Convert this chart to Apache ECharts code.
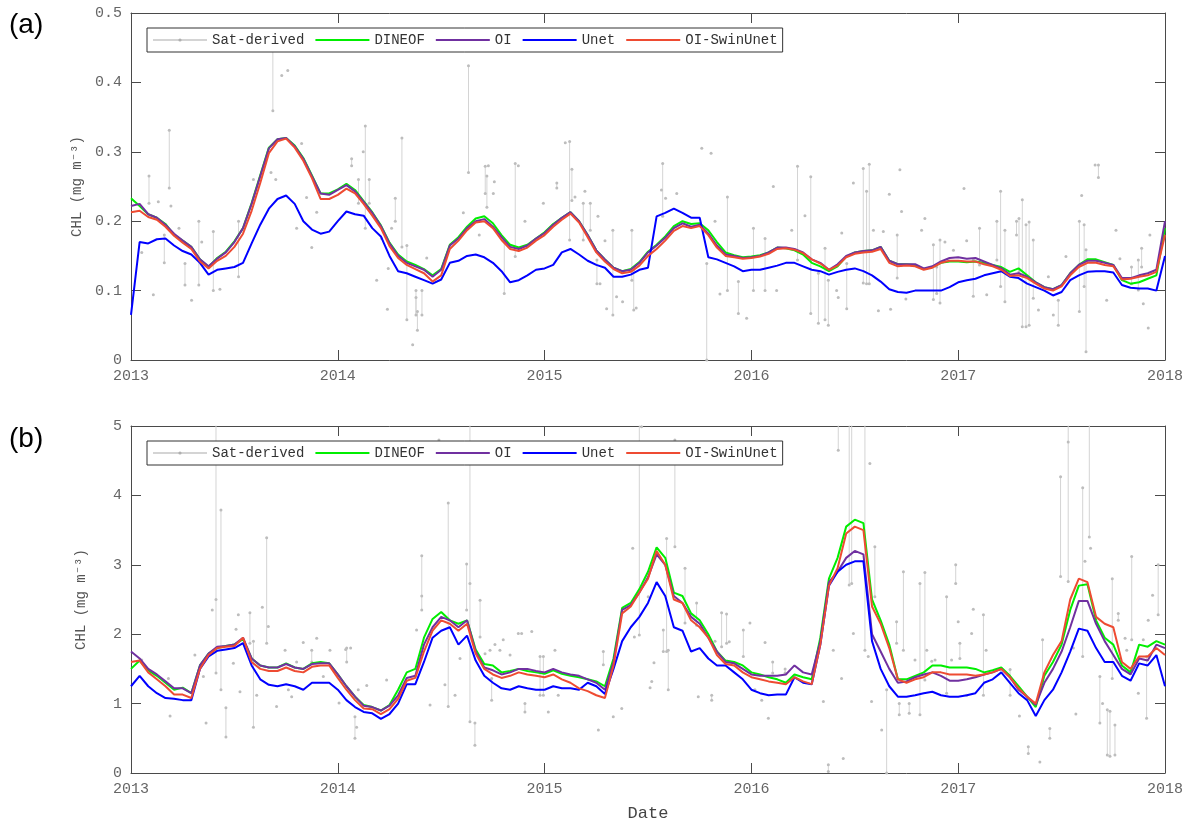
<!DOCTYPE html>
<html>
<head>
<meta charset="utf-8">
<script src="https://cdn.jsdelivr.net/npm/echarts@6/dist/echarts.min.js"></script>
<style>
  html, body { margin: 0; padding: 0; background: #fff; }
  #chart { width: 1191px; height: 824px; }
</style>
</head>
<body>
<div id="chart"></div>
<script>
// time grid: every half month from 2013 to 2018 (decimal years)
const tGrid = Array.from({ length: 121 }, (_, k) => 2013 + k / 24);
const yearTicks = [2013, 2014, 2015, 2016, 2017, 2018];

// ---- panel (a) ----
const dineofA = [
  0.233,0.222,0.21,0.205,0.196,0.18,0.172,0.163,0.145,0.134,
  0.147,0.156,0.171,0.19,0.226,0.266,0.306,0.318,0.32,0.309,
  0.291,0.266,0.24,0.24,0.246,0.254,0.245,0.229,0.213,0.194,
  0.169,0.152,0.142,0.137,0.131,0.122,0.131,0.166,0.177,0.192,
  0.204,0.207,0.197,0.18,0.166,0.162,0.166,0.175,0.184,0.196,
  0.205,0.213,0.2,0.18,0.158,0.145,0.133,0.128,0.131,0.141,
  0.156,0.166,0.178,0.193,0.2,0.196,0.197,0.187,0.17,0.155,
  0.151,0.148,0.149,0.151,0.155,0.162,0.161,0.158,0.152,0.14,
  0.135,0.128,0.135,0.149,0.155,0.157,0.158,0.163,0.143,0.138,
  0.138,0.137,0.131,0.134,0.14,0.142,0.142,0.141,0.142,0.14,
  0.137,0.134,0.127,0.132,0.122,0.112,0.105,0.102,0.108,0.125,
  0.137,0.145,0.145,0.141,0.137,0.115,0.11,0.112,0.117,0.122,
  0.19];
const oiA = [
  0.222,0.225,0.21,0.205,0.195,0.182,0.172,0.163,0.145,0.135,
  0.146,0.155,0.17,0.19,0.225,0.265,0.305,0.318,0.32,0.308,
  0.29,0.265,0.24,0.238,0.245,0.252,0.243,0.228,0.212,0.193,
  0.168,0.15,0.14,0.135,0.13,0.12,0.13,0.165,0.175,0.19,
  0.2,0.203,0.192,0.177,0.163,0.16,0.165,0.175,0.183,0.195,
  0.205,0.213,0.2,0.18,0.158,0.145,0.133,0.128,0.13,0.14,
  0.155,0.165,0.176,0.19,0.197,0.192,0.195,0.182,0.165,0.152,
  0.15,0.147,0.148,0.15,0.155,0.162,0.162,0.16,0.155,0.145,
  0.14,0.13,0.138,0.15,0.155,0.157,0.158,0.163,0.143,0.138,
  0.138,0.138,0.132,0.135,0.142,0.147,0.148,0.146,0.147,0.142,
  0.137,0.132,0.123,0.125,0.12,0.112,0.105,0.102,0.108,0.125,
  0.137,0.143,0.143,0.14,0.137,0.118,0.118,0.122,0.125,0.13,
  0.2];
const unetA = [
  0.065,0.17,0.168,0.174,0.175,0.165,0.157,0.152,0.14,0.123,
  0.13,0.132,0.134,0.14,0.168,0.195,0.218,0.232,0.237,0.225,
  0.2,0.188,0.182,0.185,0.2,0.214,0.21,0.208,0.19,0.178,
  0.15,0.128,0.125,0.12,0.115,0.11,0.116,0.14,0.143,0.15,
  0.152,0.148,0.14,0.128,0.112,0.115,0.122,0.13,0.132,0.137,
  0.155,0.16,0.152,0.143,0.137,0.133,0.12,0.12,0.123,0.13,
  0.133,0.207,0.212,0.218,0.212,0.205,0.205,0.148,0.145,0.14,
  0.135,0.128,0.13,0.13,0.133,0.136,0.14,0.14,0.135,0.13,
  0.128,0.123,0.127,0.13,0.132,0.128,0.122,0.113,0.102,0.098,
  0.097,0.1,0.1,0.1,0.1,0.105,0.112,0.115,0.117,0.122,
  0.125,0.128,0.12,0.118,0.11,0.105,0.1,0.093,0.098,0.115,
  0.122,0.127,0.128,0.128,0.126,0.108,0.104,0.103,0.103,0.1,
  0.15];
const swinA = [
  0.213,0.215,0.206,0.202,0.192,0.179,0.169,0.16,0.142,0.132,
  0.143,0.15,0.163,0.182,0.215,0.255,0.298,0.315,0.319,0.306,
  0.287,0.262,0.232,0.232,0.238,0.247,0.24,0.225,0.208,0.19,
  0.164,0.147,0.137,0.131,0.125,0.113,0.122,0.16,0.172,0.187,
  0.198,0.2,0.19,0.173,0.16,0.157,0.162,0.172,0.18,0.192,
  0.202,0.211,0.198,0.177,0.155,0.142,0.131,0.125,0.127,0.136,
  0.15,0.16,0.172,0.186,0.193,0.19,0.193,0.18,0.162,0.15,
  0.148,0.146,0.147,0.149,0.153,0.16,0.161,0.159,0.154,0.145,
  0.139,0.13,0.136,0.148,0.153,0.155,0.156,0.16,0.14,0.135,
  0.136,0.135,0.13,0.133,0.14,0.143,0.143,0.142,0.142,0.138,
  0.135,0.13,0.121,0.122,0.118,0.11,0.103,0.1,0.106,0.122,
  0.134,0.14,0.14,0.137,0.135,0.116,0.117,0.12,0.122,0.127,
  0.18];
// satellite observations: [years after 2013, value(s)] ; several values = vertical run
const satA = [
  [0.052,0.155],[0.087,0.265,0.226],[0.108,0.094],[0.132,0.228],[0.161,0.18,0.14],
  [0.185,0.331,0.248],[0.193,0.222],[0.232,0.19],[0.261,0.139,0.108],[0.293,0.086],
  [0.328,0.2,0.108],[0.342,0.17],[0.398,0.185,0.1],[0.43,0.102],[0.52,0.2,0.12],
  [0.592,0.26],[0.677,0.27],[0.686,0.46,0.359],[0.7,0.26],[0.729,0.41],[0.758,0.417],
  [0.801,0.19],[0.825,0.312],[0.849,0.234],[0.874,0.162],[0.898,0.213],
  [1.067,0.29,0.28],[1.1,0.26,0.226],[1.123,0.3],[1.133,0.337,0.19],[1.152,0.26,0.226],
  [1.188,0.115],[1.212,0.175],[1.24,0.073],[1.244,0.132],[1.26,0.19],[1.278,0.233,0.2],
  [1.31,0.32,0.163],[1.334,0.165,0.058],[1.362,0.022],[1.378,0.1,0.065,0.09],
  [1.385,0.043,0.07],[1.407,0.065,0.1],[1.43,0.147],[1.607,0.212],[1.632,0.424,0.27],
  [1.684,0.18],[1.713,0.279,0.24],[1.721,0.265,0.22],[1.728,0.28],[1.752,0.24],
  [1.757,0.257],[1.805,0.173,0.096],[1.858,0.283,0.149],[1.873,0.28],[1.905,0.2],
  [1.994,0.226],[2.059,0.255,0.248],[2.1,0.313],[2.121,0.315,0.173],[2.132,0.275,0.23],
  [2.147,0.235],[2.187,0.226,0.173],[2.195,0.243],[2.221,0.226,0.187],[2.253,0.144,0.11],
  [2.258,0.207],[2.268,0.11],[2.292,0.172],[2.3,0.074],[2.33,0.187,0.065],[2.348,0.091],
  [2.377,0.084],[2.422,0.187,0.115],[2.431,0.13,0.072],[2.443,0.075],[2.565,0.245],
  [2.571,0.283,0.207],[2.585,0.233],[2.639,0.24],[2.76,0.305],[2.784,0.139,0.0],
  [2.805,0.298],[2.824,0.2],[2.848,0.095],[2.884,0.235,0.1],[2.937,0.113,0.067],
  [2.977,0.06],[3.01,0.19,0.1],[3.066,0.175,0.1],[3.106,0.25],[3.122,0.1],[3.195,0.187],
  [3.223,0.279,0.144],[3.259,0.208],[3.287,0.264,0.067],[3.324,0.125,0.053],
  [3.356,0.161,0.058],[3.372,0.115,0.05],[3.412,0.1],[3.42,0.09],[3.437,0.183],
  [3.461,0.139,0.074],[3.493,0.255],[3.541,0.276,0.111],[3.557,0.243,0.11],
  [3.57,0.282,0.11],[3.59,0.187],[3.614,0.071],[3.638,0.185],[3.667,0.239],[3.673,0.073],
  [3.705,0.18,0.118],[3.718,0.274],[3.726,0.214],[3.747,0.088],[3.823,0.187],[3.839,0.204],
  [3.88,0.166,0.087],[3.896,0.134,0.096],[3.912,0.173,0.082],[3.936,0.17],[3.977,0.158],
  [4.028,0.247],[4.041,0.172],[4.073,0.144,0.092],[4.103,0.19,0.137],[4.138,0.094],
  [4.187,0.2,0.144],[4.205,0.243,0.106],[4.226,0.187,0.084],[4.282,0.2,0.18],
  [4.294,0.204,0.127],[4.31,0.231,0.048],[4.328,0.195,0.048],[4.343,0.199,0.05],
  [4.363,0.173,0.089],[4.388,0.072],[4.436,0.12],[4.46,0.065],[4.484,0.086,0.05],
  [4.521,0.149],[4.586,0.2,0.07],[4.597,0.237],[4.609,0.195,0.106],[4.618,0.159,0.012],
  [4.662,0.281],[4.678,0.281,0.263],[4.718,0.086],[4.763,0.187],[4.782,0.146],
  [4.838,0.134,0.11],[4.871,0.144,0.101],[4.887,0.161,0.134],[4.895,0.081],[4.919,0.046],
  [4.927,0.18]
];

// ---- panel (b) ----
const dineofB = [
  1.5,1.62,1.48,1.4,1.3,1.2,1.23,1.15,1.55,1.72,
  1.8,1.83,1.85,1.93,1.65,1.55,1.52,1.52,1.58,1.52,
  1.5,1.58,1.6,1.58,1.42,1.25,1.1,0.98,0.95,0.9,
  0.98,1.2,1.45,1.5,1.95,2.22,2.32,2.2,2.15,2.2,
  1.78,1.57,1.55,1.45,1.47,1.5,1.47,1.45,1.43,1.48,
  1.43,1.4,1.38,1.35,1.32,1.25,1.65,2.38,2.45,2.65,
  2.9,3.25,3.1,2.6,2.55,2.3,2.2,2.0,1.75,1.62,
  1.6,1.55,1.45,1.42,1.38,1.35,1.3,1.42,1.38,1.35,
  1.95,2.8,3.1,3.55,3.65,3.6,2.5,2.2,1.85,1.35,
  1.35,1.4,1.45,1.55,1.55,1.52,1.52,1.52,1.5,1.45,
  1.48,1.52,1.4,1.25,1.1,0.95,1.4,1.6,1.85,2.35,
  2.7,2.72,2.2,1.95,1.85,1.55,1.45,1.85,1.82,1.9,
  1.85];
const oiB = [
  1.75,1.65,1.5,1.42,1.32,1.22,1.22,1.15,1.55,1.72,
  1.82,1.83,1.85,1.95,1.65,1.55,1.52,1.52,1.57,1.52,
  1.5,1.57,1.58,1.58,1.42,1.25,1.1,0.97,0.95,0.9,
  0.97,1.12,1.37,1.4,1.85,2.1,2.25,2.2,2.1,2.2,
  1.75,1.52,1.48,1.42,1.45,1.5,1.5,1.47,1.45,1.5,
  1.45,1.42,1.4,1.35,1.3,1.2,1.6,2.35,2.42,2.6,
  2.82,3.15,3.0,2.55,2.45,2.25,2.15,1.95,1.75,1.6,
  1.58,1.5,1.42,1.4,1.4,1.4,1.42,1.55,1.45,1.42,
  1.9,2.75,2.9,3.1,3.2,3.15,2.0,1.75,1.5,1.3,
  1.32,1.38,1.42,1.45,1.4,1.33,1.33,1.35,1.38,1.42,
  1.45,1.5,1.38,1.2,1.1,0.98,1.3,1.5,1.75,2.1,
  2.48,2.48,2.15,1.9,1.7,1.5,1.42,1.65,1.62,1.85,
  1.8];
const unetB = [
  1.25,1.4,1.25,1.15,1.08,1.07,1.05,1.05,1.5,1.68,
  1.76,1.78,1.8,1.87,1.55,1.35,1.27,1.25,1.28,1.25,
  1.2,1.3,1.3,1.3,1.2,1.05,0.95,0.88,0.86,0.78,
  0.85,1.0,1.28,1.28,1.6,1.95,2.05,2.1,1.85,1.98,
  1.62,1.4,1.3,1.22,1.2,1.25,1.22,1.2,1.2,1.25,
  1.22,1.22,1.2,1.3,1.25,1.14,1.5,1.9,2.1,2.25,
  2.45,2.75,2.55,2.1,2.05,1.75,1.8,1.65,1.55,1.55,
  1.45,1.35,1.2,1.15,1.12,1.13,1.13,1.38,1.3,1.28,
  1.85,2.7,2.9,3.0,3.05,3.05,1.9,1.5,1.25,1.1,
  1.1,1.12,1.15,1.17,1.12,1.1,1.1,1.12,1.15,1.3,
  1.35,1.45,1.3,1.15,1.05,0.82,1.05,1.2,1.45,1.75,
  2.08,2.05,1.8,1.6,1.6,1.4,1.33,1.58,1.55,1.7,
  1.25];
const swinB = [
  1.6,1.62,1.45,1.35,1.25,1.13,1.13,1.08,1.5,1.7,
  1.8,1.82,1.83,1.95,1.6,1.5,1.47,1.47,1.52,1.47,
  1.45,1.53,1.55,1.55,1.37,1.2,1.05,0.93,0.92,0.85,
  0.92,1.07,1.33,1.37,1.75,2.05,2.2,2.15,2.05,2.15,
  1.72,1.5,1.42,1.37,1.4,1.45,1.42,1.4,1.38,1.42,
  1.35,1.3,1.22,1.18,1.12,1.08,1.55,2.3,2.4,2.6,
  2.8,3.2,3.0,2.5,2.45,2.2,2.1,1.95,1.7,1.57,
  1.55,1.45,1.38,1.35,1.32,1.3,1.28,1.38,1.32,1.28,
  1.85,2.7,2.95,3.45,3.55,3.5,2.4,2.15,1.8,1.35,
  1.3,1.35,1.38,1.45,1.45,1.42,1.42,1.42,1.4,1.42,
  1.45,1.5,1.38,1.22,1.1,1.0,1.45,1.7,1.9,2.5,
  2.8,2.75,2.25,2.15,2.1,1.6,1.5,1.68,1.68,1.8,
  1.7];
const satB = [
  [0.052,1.63],[0.181,1.36],[0.189,0.82],[0.309,1.7],[0.35,1.39],[0.363,0.72],[0.393,2.35],
  [0.411,5.6,2.5,1.44],[0.435,3.79,1.2],[0.459,0.94,0.52],[0.495,1.58],[0.508,2.07],
  [0.519,2.28],[0.527,1.17],[0.575,2.31,1.87],[0.592,1.9,0.66],[0.608,1.12],[0.635,2.39],
  [0.656,3.39,1.87],[0.664,2.11],[0.704,0.96],[0.745,1.77],[0.761,1.2],[0.777,1.1],
  [0.801,1.6],[0.833,1.88],[0.874,1.77,1.6],[0.898,1.94],[0.93,1.39],[0.962,1.77],
  [1.006,1.01],[1.038,1.78],[1.043,1.8,1.6],[1.062,1.8],[1.083,0.81,0.5],[1.091,0.66],
  [1.099,1.2],[1.14,1.26],[1.236,1.34],[1.381,2.06],[1.406,3.13,2.55,2.35],[1.446,0.98],
  [1.489,4.8],[1.518,1.27],[1.534,3.89,0.96],[1.567,1.12],[1.591,1.65],[1.623,3.01,2.35],
  [1.639,5.6,2.73,0.74],[1.663,0.72,0.4],[1.688,2.49,1.96],[1.712,1.72],[1.736,1.77],
  [1.744,1.36,1.05],[1.76,1.85],[1.784,1.77],[1.8,1.92],[1.833,1.7],[1.873,2.01],
  [1.889,2.01],[1.905,1.0,0.88],[1.938,2.04],[1.978,1.68,1.12],[1.994,1.68,1.12],
  [2.018,0.88],[2.05,1.77],[2.066,1.12],[2.26,0.62],[2.284,1.75,1.56],[2.332,0.81],
  [2.373,0.93],[2.426,3.24],[2.434,1.96],[2.458,5.6,1.99],[2.469,4.99],[2.501,2.54],
  [2.51,1.23],[2.518,1.32],[2.529,1.59],[2.574,2.06,1.75],[2.59,3.38,1.75],
  [2.598,1.77,1.2],[2.63,4.8,3.26],[2.679,2.95,2.16],[2.735,2.45,2.13],[2.743,1.1],
  [2.808,1.12,1.05],[2.824,1.9],[2.856,2.31,1.82],[2.88,2.29,1.87],[2.893,1.89],
  [2.961,2.06,1.68],[2.993,2.16],[3.017,1.2],[3.05,1.05],[3.066,1.88],[3.082,0.79],
  [3.103,1.6,1.44],[3.163,1.5,1.44],[3.348,1.03],[3.372,0.12,0.02],[3.396,1.77],
  [3.42,5.6,4.65],[3.436,1.36],[3.444,0.21],[3.473,5.6,2.71],[3.485,5.6,2.73],
  [3.493,2.01],[3.549,5.6,1.77],[3.565,1.68],[3.573,4.46],[3.581,1.03],[3.597,3.26,2.54],
  [3.63,0.62],[3.654,1.2,0.0],[3.702,2.18,1.87],[3.715,1.0,0.84],[3.735,2.9,1.77],
  [3.763,1.0,0.86],[3.791,1.63],[3.815,2.73,0.84],[3.839,2.89,1.34],[3.848,1.77],
  [3.872,1.61],[3.888,1.63],[3.944,2.54,1.15],[3.968,1.63],[3.988,3.0,2.73],[4.0,2.18],
  [4.008,1.87,1.65],[4.041,1.12],[4.065,2.01],[4.073,2.36],[4.122,2.28,1.12],[4.135,1.77],
  [4.202,1.49],[4.251,1.49,1.12],[4.296,0.82],[4.339,0.38,0.28],[4.395,0.16],
  [4.408,1.92,1.32],[4.443,0.64,0.5],[4.495,4.27,2.83],[4.532,5.6,4.77,2.76],[4.557,1.8],
  [4.569,0.85],[4.602,4.11,1.68],[4.613,3.05],[4.634,5.6,3.4],[4.64,3.24],
  [4.685,1.39,0.72],[4.698,1.0],[4.721,0.91,0.26],[4.734,0.89,0.24],[4.745,2.8,1.36],
  [4.758,0.69,0.26],[4.774,2.3,2.2],[4.807,1.94],[4.815,1.77],[4.839,3.12,1.92],
  [4.871,1.15],[4.895,1.92],[4.911,1.68,0.79],[4.919,2.2],[4.94,2.56],[4.967,3.0,2.28]
];

const mono = "'Liberation Mono', 'DejaVu Sans Mono', monospace";
const axisCol = '#4a4a4a';
const names = ['Sat-derived', 'DINEOF', 'OI', 'Unet', 'OI-SwinUnet'];
const colors = ['#c4c4c4', '#00ee00', '#7030a0', '#0000ff', '#ee4b32'];

const pair = vals => vals.map((v, k) => [tGrid[k], v]);
function satData(groups) {
  const out = [];
  groups.forEach(g => {
    for (let i = 1; i < g.length; i++) out.push([2013 + g[0], g[i]]);
    out.push([2013 + g[0], null]);
  });
  return out;
}

function xAxis(grid, pos, label, name) {
  return {
    type: 'value', gridIndex: grid, position: pos, min: 2013, max: 2018, interval: 1,
    name: name || '', nameLocation: 'middle', nameGap: 32,
    nameTextStyle: { fontFamily: mono, fontSize: 17, color: '#444' },
    axisLine: { show: true, onZero: false, lineStyle: { color: axisCol, width: 1 } },
    axisTick: { show: true, inside: true, length: 10, lineStyle: { color: axisCol } },
    axisLabel: { show: label, fontFamily: mono, fontSize: 15, color: '#666', margin: 9,
      formatter: v => String(Math.round(v)) },
    splitLine: { show: false }
  };
}
function yAxis(grid, pos, max, step, label) {
  return {
    type: 'value', gridIndex: grid, position: pos, min: 0, max: max, interval: step,
    name: label ? 'CHL (mg m⁻³)' : '', nameLocation: 'middle', nameGap: 43, nameRotate: 90,
    nameTextStyle: { fontFamily: mono, fontSize: 14, color: '#555' },
    axisLine: { show: true, lineStyle: { color: axisCol, width: 1 } },
    axisTick: { show: true, inside: true, length: 10, lineStyle: { color: axisCol } },
    axisLabel: { show: label, fontFamily: mono, fontSize: 15, color: '#666', margin: 9 },
    splitLine: { show: false }
  };
}

function panelSeries(xi, yi, sat, lines) {
  const list = [{
    name: names[0], type: 'line', xAxisIndex: xi, yAxisIndex: yi,
    data: satData(sat), connectNulls: false, symbol: 'circle', symbolSize: 3,
    showSymbol: true, showAllSymbol: true,
    itemStyle: { color: '#bdbdbd' }, lineStyle: { color: '#d4d4d4', width: 1 }, z: 1
  }];
  lines.forEach((vals, i) => {
    list.push({
      name: names[i + 1], type: 'line', xAxisIndex: xi, yAxisIndex: yi,
      data: pair(vals), symbol: 'none', itemStyle: { color: colors[i + 1] },
      lineStyle: { color: colors[i + 1], width: 2 }, z: 2 + i
    });
  });
  return list;
}

function legend(top) {
  return {
    data: names.map((n, i) => i === 0
      ? { name: n, itemStyle: { color: '#b0b0b0' } }
      : { name: n, itemStyle: { opacity: 0 } }),
    left: 147, top: top, orient: 'horizontal',
    itemWidth: 54, itemHeight: 4, itemGap: 10, padding: [5, 5],
    borderColor: '#333', borderWidth: 1, backgroundColor: '#fff',
    textStyle: { fontFamily: mono, fontSize: 14, color: '#333', lineHeight: 14 }
  };
}

const chart = echarts.init(document.getElementById('chart'));
chart.setOption({
  animation: false,
  backgroundColor: '#fff',
  grid: [
    { left: 131, top: 13, width: 1034, height: 347 },
    { left: 131, top: 426, width: 1034, height: 347 }
  ],
  xAxis: [
    xAxis(0, 'bottom', true), xAxis(0, 'top', false),
    xAxis(1, 'bottom', true, 'Date'), xAxis(1, 'top', false)
  ],
  yAxis: [
    yAxis(0, 'left', 0.5, 0.1, true), yAxis(0, 'right', 0.5, 0.1, false),
    yAxis(1, 'left', 5, 1, true), yAxis(1, 'right', 5, 1, false)
  ],
  legend: [legend(28), legend(441)],
  graphic: [
    { type: 'text', left: 9, top: 11, style: { text: '(a)', font: '28px "Liberation Sans", Arial, sans-serif', fill: '#000' } },
    { type: 'text', left: 9, top: 425, style: { text: '(b)', font: '28px "Liberation Sans", Arial, sans-serif', fill: '#000' } }
  ],
  series: [
    ...panelSeries(0, 0, satA, [dineofA, oiA, unetA, swinA]),
    ...panelSeries(2, 2, satB, [dineofB, oiB, unetB, swinB])
  ]
});
</script>
</body>
</html>
